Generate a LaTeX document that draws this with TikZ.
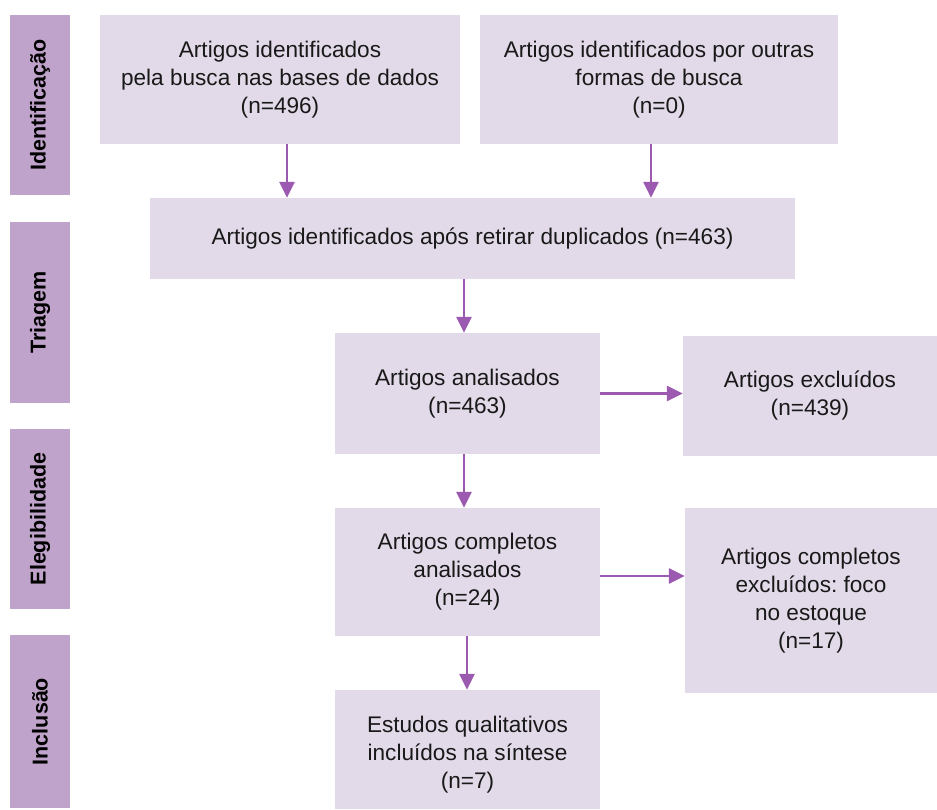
\documentclass[tikz,border=0pt]{standalone}
\usepackage{fontspec}
\setmainfont{Liberation Sans}
\usetikzlibrary{arrows.meta}
\frenchspacing
\definecolor{boxfill}{HTML}{E2DAE8}
\definecolor{sidefill}{HTML}{C0A3CA}
\definecolor{arrcol}{HTML}{9B59B0}
\tikzset{
  box/.style={fill=boxfill, draw=none, inner sep=0pt, align=center, font=\fontsize{22.6}{28}\selectfont, text=black!90},
  side/.style={fill=sidefill, draw=none, inner sep=0pt, minimum width=60pt},
  sidelabel/.style={rotate=90, font=\fontsize{21.5}{24}\selectfont\bfseries, text=black},
  arr/.style={draw=arrcol, line width=2.6pt, -{Triangle[length=16pt,width=15pt]}}
}
\begin{document}
\begin{tikzpicture}[x=1pt,y=-1pt]
\useasboundingbox (0,0) rectangle (937,809);
% sidebars
\node[side, minimum height=180pt] (s1) at (40,105) {};
\node[side, minimum height=181pt] (s2) at (40,312.5) {};
\node[side, minimum height=180pt] (s3) at (40,519) {};
\node[side, minimum height=173pt] (s4) at (40,721.5) {};
\node[sidelabel] (l1) at (s1.center) {Identificação};
\node[sidelabel] (l2) at (s2.center) {Triagem};
\node[sidelabel] (l3) at (s3.center) {Elegibilidade};
\node[sidelabel] (l4) at (s4.center) {Inclusão};
% boxes
\node[box, minimum width=360pt, minimum height=129pt] (A) at (280,79.5) {Artigos identificados\\pela busca nas bases de dados\\(n=496)};
\node[box, minimum width=358pt, minimum height=129pt] (B) at (659,79.5) {Artigos identificados por outras\\formas de busca\\(n=0)};
\node[box, minimum width=645pt, minimum height=81pt] (C) at (472.5,238.5) {Artigos identificados após retirar duplicados (n=463)};
\node[box, minimum width=265pt, minimum height=121pt] (D) at (467.5,393.5) {Artigos analisados\\(n=463)};
\node[box, minimum width=254pt, minimum height=120pt] (E) at (810,396) {Artigos excluídos\\(n=439)};
\node[box, minimum width=265pt, minimum height=128pt] (F) at (467.5,572) {Artigos completos\\analisados\\(n=24)};
\node[box, minimum width=252pt, minimum height=185pt] (G) at (811,600.5) {Artigos completos\\excluídos: foco\\no estoque\\(n=17)};
\node[box, minimum width=265pt, minimum height=119pt] (H) at (467.5,749.5) {};
\node[align=center, font=\fontsize{22.6}{28}\selectfont, text=black!90, inner sep=0pt] (Ht) at (467.5,755) {Estudos qualitativos\\incluídos na síntese\\(n=7)};
% arrows
\coordinate (fg) at ([yshift=-4pt]F.east);
\draw[arr] ([xshift=7pt]A.south) -- ([xshift=7pt]A.south |- C.north);
\draw[arr] ([xshift=-8pt]B.south) -- ([xshift=-8pt]B.south |- C.north);
\draw[arr] ([xshift=-3.5pt]D.north |- C.south) -- ([xshift=-3.5pt]D.north);
\draw[arr] (D.east) -- (E.west |- D.east);
\draw[arr] ([xshift=-3.5pt]D.south) -- ([xshift=-3.5pt]F.north);
\draw[arr] (fg) -- (G.west |- fg);
\draw[arr] ([xshift=-0.5pt]F.south) -- ([xshift=-0.5pt]H.north);
\end{tikzpicture}
\end{document}
